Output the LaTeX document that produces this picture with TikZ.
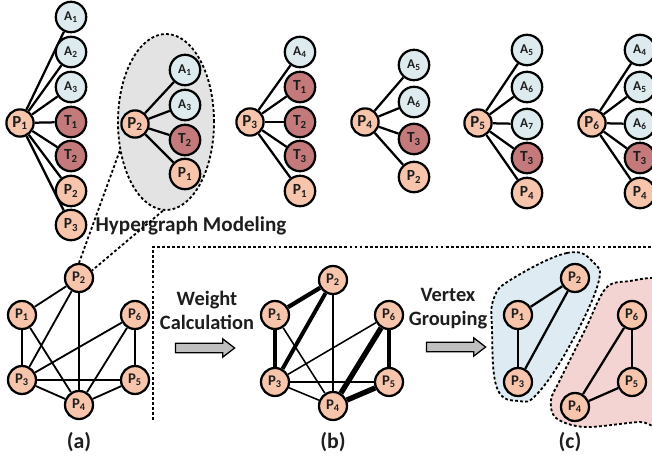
\documentclass[tikz,border=0pt]{standalone}
\usepackage{fontspec}
\setmainfont{Carlito}
\usetikzlibrary{arrows.meta,positioning,shapes.geometric,shapes.arrows}

\definecolor{pfill}{HTML}{F7C4AC}
\definecolor{afill}{HTML}{DDEBEF}
\definecolor{tfill}{HTML}{C47A7A}
\definecolor{ellgray}{HTML}{E3E3E3}
\definecolor{grpblue}{HTML}{DEEBF2}
\definecolor{grppink}{HTML}{F4D3D3}
\definecolor{arrowgray}{HTML}{BFBFBF}
\definecolor{txtcol}{HTML}{1E1E1E}

% vertex label: letter with a small index
\newcommand{\vx}[2]{#1\textsubscript{#2}}

\tikzset{
	vtx/.style={circle, draw, line width=1.6pt, inner sep=0pt, minimum size=0.7cm,
		text=txtcol, font=\bfseries\fontsize{11}{10}\selectfont},
	hub/.style={vtx, fill=pfill, minimum size=0.68cm, font=\bfseries\fontsize{12}{10}\selectfont},
	pleaf/.style={vtx, fill=pfill, minimum size=0.76cm},
	aleaf/.style={vtx, fill=afill, minimum size=0.76cm, font=\bfseries\fontsize{9.5}{8}\selectfont},
	tleaf/.style={vtx, fill=tfill, minimum size=0.76cm},
	gnode/.style={vtx, fill=pfill, minimum size=0.7cm, font=\bfseries\fontsize{10.5}{9}\selectfont},
	link/.style={line width=1.6pt},
	glink/.style={line width=1.3pt},
	dots/.style={line width=1.3pt, dash pattern=on 2pt off 1.6pt},
	caption/.style={text=txtcol, font=\bfseries\fontsize{14.5}{17}\selectfont, align=center},
	sublabel/.style={caption, font=\bfseries\fontsize{15.5}{17}\selectfont},
	blockarrow/.style={single arrow, draw, line width=0.9pt, fill=arrowgray, inner xsep=0pt,
		inner ysep=0.1cm, minimum height=1.48cm, single arrow head extend=0.11cm,
		single arrow tip angle=75}
}

\begin{document}
\begin{tikzpicture}[x=0.025cm, y=-0.025cm]
	\useasboundingbox (0,0) rectangle (652,459);

	% hyperedge of P2, highlighted
	\node[ellipse, draw, dots, fill=ellgray, minimum width=2.4cm, minimum height=4.4cm] (hgell) at (166,122) {};

	% top row: one tree per P vertex
	\node[hub] (t1p) at (20,123) {\vx{P}{1}};
	\foreach \y/\s/\c/\d [count=\i] in {17/aleaf/A/1, 52/aleaf/A/2, 87/aleaf/A/3, 122/tleaf/T/1,
		156/tleaf/T/2, 191/pleaf/P/2, 225/pleaf/P/3} {
		\node[\s] (t1l\i) at (71,\y) {\vx{\c}{\d}};
		\draw[link] (t1p) -- (t1l\i);
	}

	\node[hub] (t2p) at (135,124) {\vx{P}{2}};
	\foreach \y/\s/\c/\d [count=\i] in {70/aleaf/A/1, 105/aleaf/A/3, 140/tleaf/T/2, 174/pleaf/P/1} {
		\node[\s] (t2l\i) at (185,\y) {\vx{\c}{\d}};
		\draw[link] (t2p) -- (t2l\i);
	}

	\node[hub] (t3p) at (250,122) {\vx{P}{3}};
	\foreach \y/\s/\c/\d [count=\i] in {52/aleaf/A/4, 87/tleaf/T/1, 122/tleaf/T/2, 156/tleaf/T/3, 191/pleaf/P/1} {
		\node[\s] (t3l\i) at (300,\y) {\vx{\c}{\d}};
		\draw[link] (t3p) -- (t3l\i);
	}

	\node[hub] (t4p) at (365,122) {\vx{P}{4}};
	\foreach \y/\s/\c/\d [count=\i] in {65/aleaf/A/5, 102/aleaf/A/6, 139/tleaf/T/3, 177/pleaf/P/2} {
		\node[\s] (t4l\i) at (414,\y) {\vx{\c}{\d}};
		\draw[link] (t4p) -- (t4l\i);
	}

	\node[hub] (t5p) at (478,123) {\vx{P}{5}};
	\foreach \y/\s/\c/\d [count=\i] in {50/aleaf/A/5, 87/aleaf/A/6, 124/aleaf/A/7, 158/tleaf/T/3, 193/pleaf/P/4} {
		\node[\s] (t5l\i) at (527,\y) {\vx{\c}{\d}};
		\draw[link] (t5p) -- (t5l\i);
	}

	\node[hub] (t6p) at (592,123) {\vx{P}{6}};
	\foreach \y/\s/\c/\d [count=\i] in {50/aleaf/A/4, 87/aleaf/A/5, 124/aleaf/A/6, 158/tleaf/T/3, 193/pleaf/P/4} {
		\node[\s] (t6l\i) at (640,\y) {\vx{\c}{\d}};
		\draw[link] (t6p) -- (t6l\i);
	}

	\node[caption, font=\bfseries\fontsize{15}{17}\selectfont] (hgtxt) at (191,226) {Hypergraph Modeling};

	% (a) vertex graph
	\node[gnode] (a1) at (22,315) {\vx{P}{1}};
	\node[gnode] (a2) at (79,278) {\vx{P}{2}};
	\node[gnode] (a3) at (22,380) {\vx{P}{3}};
	\node[gnode] (a4) at (79,405) {\vx{P}{4}};
	\node[gnode] (a5) at (135,380) {\vx{P}{5}};
	\node[gnode] (a6) at (135,315) {\vx{P}{6}};
	\foreach \u/\v in {1/2, 1/3, 1/4, 2/3, 2/4, 3/4, 3/5, 3/6, 4/5, 4/6, 5/6}
		\draw[glink] (a\u) -- (a\v);

	\draw[dots] (hgell.212) -- (a2.north);
	\draw[dots] (hgell.268) -- (a2.30);

	% separator
	\draw[dots] (153,420) -- (153,247) -- (652,247);

	% (b) weighted graph
	\node[gnode] (b1) at (275,315) {\vx{P}{1}};
	\node[gnode] (b2) at (333,280) {\vx{P}{2}};
	\node[gnode] (b3) at (275,382) {\vx{P}{3}};
	\node[gnode] (b4) at (333,406) {\vx{P}{4}};
	\node[gnode] (b5) at (389,382) {\vx{P}{5}};
	\node[gnode] (b6) at (389,315) {\vx{P}{6}};
	\foreach \u/\v/\w in {1/2/3, 1/3/3.4, 2/3/2.8, 1/4/1.1, 2/4/1.1, 3/4/1.1, 3/5/1.3,
		3/6/1.1, 4/5/3.8, 4/6/3.8, 5/6/3.2}
		\draw[line width=\w pt] (b\u) -- (b\v);

	% (c) vertex groups
	\draw[dots, fill=grpblue] plot[smooth cycle, tension=0.7] coordinates {
		(512,279) (567,253) (593,262) (598,284) (570,345) (538,393) (519,401) (497,388) (492,330) (494,298)};
	\draw[dots, fill=grppink] plot[smooth cycle, tension=0.55] coordinates {
		(606,288) (630,281) (660,279) (672,300) (672,424) (640,422) (585,427) (556,418) (551,400) (560,380) (585,330)};

	\node[gnode] (c1) at (518,315) {\vx{P}{1}};
	\node[gnode] (c2) at (575,278) {\vx{P}{2}};
	\node[gnode] (c3) at (518,382) {\vx{P}{3}};
	\node[gnode] (c4) at (575,407) {\vx{P}{4}};
	\node[gnode] (c5) at (632,382) {\vx{P}{5}};
	\node[gnode] (c6) at (632,315) {\vx{P}{6}};
	\foreach \u/\v in {1/2, 1/3, 2/3, 4/5, 4/6, 5/6}
		\draw[line width=1.6pt] (c\u) -- (c\v);

	% steps between the graphs
	\node[caption] (wctxt) at (207,310) {Weight\\Calculation};
	\node[blockarrow] (wcarr) at (202,348) {};
	\node[caption] (vgtxt) at (448,309) {Vertex\\Grouping};
	\node[blockarrow] (vgarr) at (453,347) {};

	\node[sublabel] (capa) at (79,442) {(a)};
	\node[sublabel] (capb) at (333,442) {(b)};
	\node[sublabel] (capc) at (570,442) {(c)};
\end{tikzpicture}
\end{document}
